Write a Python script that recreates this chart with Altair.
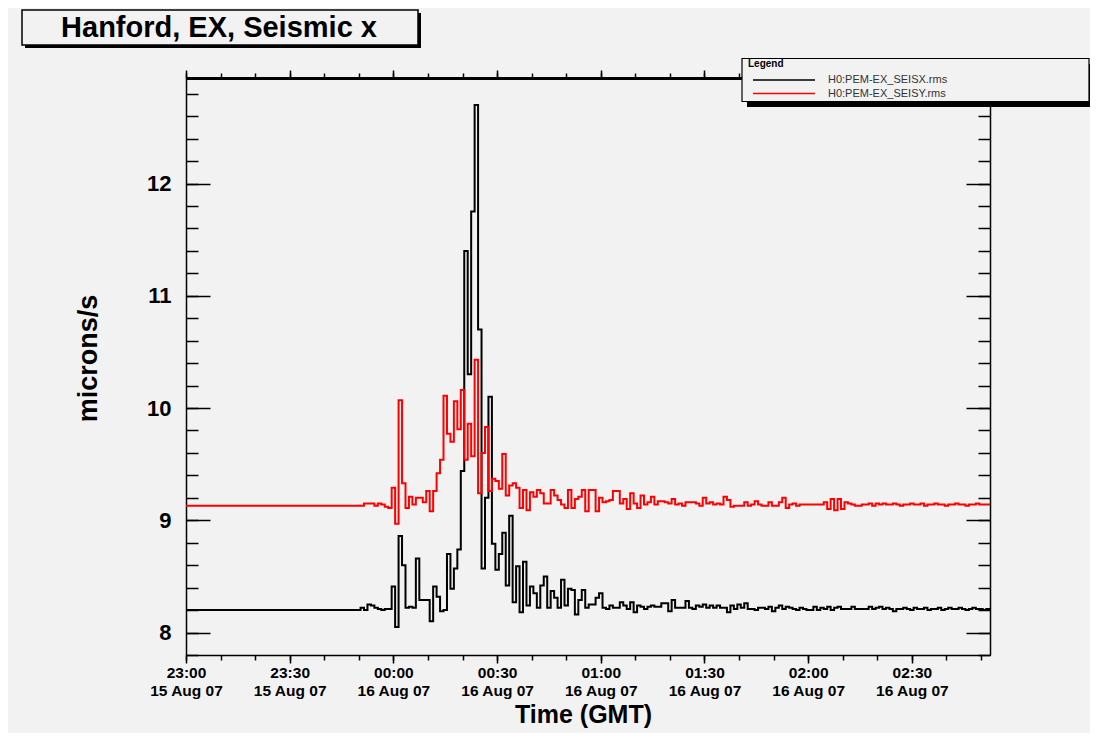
import altair as alt
import pandas as pd

# ---------------- data (1-minute trend bins) ----------------
BIN_START = "2007-08-15T22:59:30Z"   # left edge of the first bin
X_START = "2007-08-15T23:00:00Z"
X_END = "2007-08-16T02:52:36Z"

seisx = [
    8.20, 8.20, 8.20, 8.20, 8.20, 8.20, 8.20, 8.20, 8.20, 8.20,
    8.20, 8.20, 8.20, 8.20, 8.20, 8.20, 8.20, 8.20, 8.20, 8.20,
    8.20, 8.20, 8.20, 8.20, 8.20, 8.20, 8.20, 8.20, 8.20, 8.20,
    8.20, 8.20, 8.20, 8.20, 8.20, 8.20, 8.20, 8.20, 8.20, 8.20,
    8.20, 8.20, 8.20, 8.20, 8.20, 8.20, 8.20, 8.20, 8.20, 8.20,
    8.20,
    8.22, 8.20, 8.25, 8.24, 8.22, 8.21, 8.20, 8.21, 8.21,
    8.41, 8.05, 8.86, 8.60, 8.22, 8.23, 8.22, 8.66, 8.29, 8.29,
    8.29, 8.10, 8.41, 8.32, 8.19, 8.20, 8.70, 8.39, 8.57, 8.74,
    9.44, 11.40, 10.30, 11.75, 12.70, 10.70, 8.57, 9.20, 10.10, 8.79,
    8.56, 8.70, 8.89, 8.42, 9.04, 8.27, 8.59, 8.18, 8.63, 8.24,
    8.41, 8.35, 8.22, 8.42, 8.50, 8.22, 8.37, 8.31, 8.22, 8.47,
    8.24, 8.39, 8.38, 8.16, 8.29, 8.38, 8.22, 8.25, 8.25, 8.31,
    8.35, 8.22, 8.21, 8.24, 8.22, 8.22, 8.27, 8.24, 8.21, 8.27,
    8.18, 8.24, 8.23, 8.21, 8.23, 8.24, 8.23, 8.23, 8.26, 8.26,
    8.19, 8.29, 8.22, 8.22, 8.22, 8.28, 8.22, 8.21, 8.24, 8.23,
    8.25, 8.22, 8.24, 8.22, 8.24, 8.22, 8.22, 8.18, 8.24, 8.21,
    8.25, 8.22, 8.26, 8.21, 8.21, 8.20, 8.22, 8.22, 8.21, 8.23,
    8.19, 8.22, 8.24, 8.21, 8.23, 8.22, 8.21, 8.20, 8.22, 8.21,
    8.20, 8.20, 8.23, 8.20, 8.22, 8.21, 8.23, 8.20, 8.22, 8.23,
    8.21, 8.21, 8.21, 8.23, 8.21, 8.21, 8.21, 8.21, 8.23, 8.21,
    8.22, 8.23, 8.21, 8.22, 8.21, 8.19, 8.21, 8.21, 8.22, 8.21,
    8.20, 8.22, 8.21, 8.21, 8.22, 8.20, 8.21, 8.21, 8.22, 8.20,
    8.21, 8.22, 8.21, 8.21, 8.22, 8.21, 8.20, 8.21, 8.22, 8.21,
    8.21, 8.20, 8.21, 8.21,
]

seisy = [
    9.13, 9.13, 9.13, 9.13, 9.13, 9.13, 9.13, 9.13, 9.13, 9.13,
    9.13, 9.13, 9.13, 9.13, 9.13, 9.13, 9.13, 9.13, 9.13, 9.13,
    9.13, 9.13, 9.13, 9.13, 9.13, 9.13, 9.13, 9.13, 9.13, 9.13,
    9.13, 9.13, 9.13, 9.13, 9.13, 9.13, 9.13, 9.13, 9.13, 9.13,
    9.13, 9.13, 9.13, 9.13, 9.13, 9.13, 9.13, 9.13, 9.13, 9.13,
    9.13, 9.13,
    9.15, 9.15, 9.15, 9.13, 9.15, 9.14, 9.12, 9.11,
    9.29, 8.97, 10.07, 9.33, 9.11, 9.21, 9.14, 9.20, 9.20, 9.16,
    9.26, 9.08, 9.26, 9.42, 9.54, 10.11, 9.77, 9.70, 10.06, 9.81,
    10.16, 9.54, 9.86, 9.57, 10.43, 9.24, 9.60, 9.83, 9.26, 9.37,
    9.35, 9.28, 9.59, 9.22, 9.31, 9.33, 9.29, 9.11, 9.27, 9.09,
    9.25, 9.21, 9.27, 9.24, 9.15, 9.15, 9.27, 9.22, 9.18, 9.14,
    9.11, 9.27, 9.11, 9.19, 9.21, 9.27, 9.08, 9.27, 9.27, 9.08,
    9.20, 9.16, 9.17, 9.18, 9.26, 9.26, 9.15, 9.19, 9.10, 9.24,
    9.15, 9.11, 9.22, 9.14, 9.16, 9.21, 9.14, 9.17, 9.17, 9.16,
    9.15, 9.19, 9.14, 9.15, 9.13, 9.16, 9.16, 9.16, 9.15, 9.13,
    9.20, 9.15, 9.16, 9.14, 9.15, 9.14, 9.21, 9.18, 9.12, 9.13,
    9.13, 9.13, 9.16, 9.13, 9.14, 9.17, 9.14, 9.13, 9.13, 9.16,
    9.13, 9.13, 9.16, 9.20, 9.11, 9.14, 9.15, 9.13, 9.14, 9.14,
    9.14, 9.14, 9.14, 9.14, 9.14, 9.16, 9.10, 9.19, 9.09, 9.19,
    9.10, 9.16, 9.15, 9.14, 9.13, 9.13, 9.14, 9.14, 9.15, 9.13,
    9.15, 9.14, 9.15, 9.14, 9.14, 9.15, 9.14, 9.13, 9.14, 9.14,
    9.15, 9.14, 9.14, 9.15, 9.13, 9.14, 9.14, 9.15, 9.14, 9.14,
    9.13, 9.14, 9.14, 9.15, 9.14, 9.14, 9.13, 9.14, 9.14, 9.15,
    9.14, 9.14, 9.14, 9.14,
]

series_names = ["H0:PEM-EX_SEISX.rms", "H0:PEM-EX_SEISY.rms"]
series_colors = ["#000000", "#ff0000"]
legend_rows = [0, 1]
title_text = "Hanford, EX, Seismic x"
legend_title = "Legend"
x_title = "Time (GMT)"
y_title = "microns/s"
y_major = [8, 9, 10, 11, 12]
y_minor = [round(7.8 + 0.2 * i, 1) for i in range(26)]
x_major_labels = ["2007-08-15T23:00:00Z", "2007-08-15T23:30:00Z",
                  "2007-08-16T00:00:00Z", "2007-08-16T00:30:00Z",
                  "2007-08-16T01:00:00Z", "2007-08-16T01:30:00Z",
                  "2007-08-16T02:00:00Z", "2007-08-16T02:30:00Z"]


def ms(s):
    return int(pd.Timestamp(s).value // 10**6)


x_major = [ms(s) for s in x_major_labels]
x_minor = [int(t.value // 10**6) for t in
           pd.date_range(X_START, "2007-08-16T02:50:00Z", freq="10min")]

rows = []
t0 = pd.Timestamp(BIN_START)
for name, vals in zip(series_names, [seisx, seisy]):
    for i, v in enumerate(vals + [vals[-1]]):
        rows.append({"t": int((t0 + pd.Timedelta(minutes=i)).value // 10**6),
                     "v": v, "s": name})
df = pd.DataFrame(rows)

# ---------------- styling ----------------
BG = "#f2f2f2"
FONT = "Liberation Sans"
W, H = 804, 577

xscale = alt.Scale(type="utc", domain=[ms(X_START), ms(X_END)], nice=False)
yscale = alt.Scale(domain=[7.8, 12.94], nice=False, zero=False)

no_lab = dict(labels=False, title=None, grid=False, tickColor="black", tickWidth=1.5)


def axis_layer(xaxis, yaxis):
    return alt.Chart(df).mark_line(interpolate="step-after", strokeOpacity=0).encode(
        x=alt.X("t:T", scale=xscale, axis=xaxis),
        y=alt.Y("v:Q", scale=yscale, axis=yaxis),
        detail="s:N",
    )


lines = alt.Chart(df).mark_line(interpolate="step-after", strokeWidth=2, clip=True).encode(
    x=alt.X("t:T", scale=xscale, axis=alt.Axis(
        orient="bottom", values=x_major, grid=False,
        labelExpr="[utcFormat(datum.value, '%H:%M'), utcFormat(datum.value, '%d %b %y')]",
        tickSize=8, tickColor="black", tickWidth=1.5,
        domainColor="black", domainWidth=1.5,
        labelFont=FONT, labelFontSize=15.5, labelFontWeight="bold", labelColor="black",
        labelLineHeight=18, labelPadding=2, labelAngle=0, labelBaseline="top",
        labelOverlap=False, labelFlush=False,
        title=x_title, titleFont=FONT, titleFontSize=25, titleFontWeight="bold",
        titleColor="black", titleX=397, titleY=59, titleBaseline="middle",
        titleAnchor="middle")),
    y=alt.Y("v:Q", scale=yscale, axis=alt.Axis(
        orient="left", values=y_major, grid=False, ticks=False,
        domainColor="black", domainWidth=1.5,
        labelFont=FONT, labelFontSize=22, labelFontWeight="bold", labelColor="black",
        labelPadding=15,
        title=y_title, titleFont=FONT, titleFontSize=27, titleFontWeight="bold",
        titleColor="black", titleX=-98, titleY=280, titleAlign="center",
        titleBaseline="middle")),
    color=alt.Color("s:N", scale=alt.Scale(domain=series_names, range=series_colors),
                    legend=None),
)

l2 = axis_layer(
    alt.Axis(orient="bottom", values=x_minor, tickSize=5, domain=False, **no_lab),
    alt.Axis(orient="right", offset=-W, values=y_major, tickSize=24, domain=False, **no_lab),
)
l3 = axis_layer(
    alt.Axis(orient="top", values=x_major, tickSize=8, domain=True,
             domainColor="black", domainWidth=3, **no_lab),
    alt.Axis(orient="right", offset=-W, values=y_minor, tickSize=12, domain=False, **no_lab),
)
l4 = axis_layer(
    alt.Axis(orient="top", values=x_minor, tickSize=5, domain=False, **no_lab),
    alt.Axis(orient="left", offset=-W, values=y_major, tickSize=24, domain=True,
             domainColor="black", domainWidth=1.5, **no_lab),
)
l5 = axis_layer(
    None,
    alt.Axis(orient="left", offset=-W, values=y_minor, tickSize=12, domain=False, **no_lab),
)

one = alt.Data(values=[{"a": 1}])

# title box with shadow
title_shadow = alt.Chart(one).mark_rect(color="black").encode(
    x=alt.value(-161), x2=alt.value(235), y=alt.value(-65), y2=alt.value(-30))
title_box = alt.Chart(one).mark_rect(fill=BG, stroke="black", strokeWidth=1.5).encode(
    x=alt.value(-164), x2=alt.value(232), y=alt.value(-68), y2=alt.value(-33))
title_txt = alt.Chart(one).mark_text(
    font=FONT, fontSize=29, fontWeight="bold", color="black",
    align="center", baseline="middle").encode(
    x=alt.value(33), y=alt.value(-50), text=alt.value(title_text))

# legend box with shadow
leg_shadow = alt.Chart(one).mark_rect(color="black").encode(
    x=alt.value(561), x2=alt.value(908), y=alt.value(-14), y2=alt.value(29))
leg_box = alt.Chart(one).mark_rect(fill=BG, stroke="black", strokeWidth=1.2).encode(
    x=alt.value(556), x2=alt.value(903), y=alt.value(-19.5), y2=alt.value(23.5))
leg_title = alt.Chart(one).mark_text(
    font=FONT, fontSize=10, fontWeight="bold", color="black",
    align="left", baseline="middle").encode(
    x=alt.value(562), y=alt.value(-14), text=alt.value(legend_title))

leg_df = pd.DataFrame({"s": series_names, "c": series_colors, "row": legend_rows})
leg_rows = alt.Scale(domain=[0, 1], range=[2, 15.5])
leg_lines = alt.Chart(leg_df).mark_rule(strokeWidth=1.5).encode(
    x=alt.value(567), x2=alt.value(629),
    y=alt.Y("row:Q", scale=leg_rows, axis=None),
    color=alt.Color("c:N", scale=None),
)
leg_text = alt.Chart(leg_df).mark_text(
    font=FONT, fontSize=11, color="#333333", align="left", baseline="middle").encode(
    x=alt.value(642),
    y=alt.Y("row:Q", scale=leg_rows, axis=None),
    text="s:N",
)

chart = alt.layer(
    l2, l3, l4, l5, lines,
    title_shadow, title_box, title_txt,
    leg_shadow, leg_box, leg_title, leg_lines, leg_text,
).resolve_axis(x="independent", y="independent").resolve_scale(
    y="independent"
).properties(
    width=W, height=H, background=BG,
    autosize=alt.AutoSizeParams(type="none"),
    padding={"left": 178, "top": 70, "right": 100, "bottom": 78},
).configure_view(stroke=None)

chart.save("out.html", embed_options={"renderer": "svg", "actions": False})
